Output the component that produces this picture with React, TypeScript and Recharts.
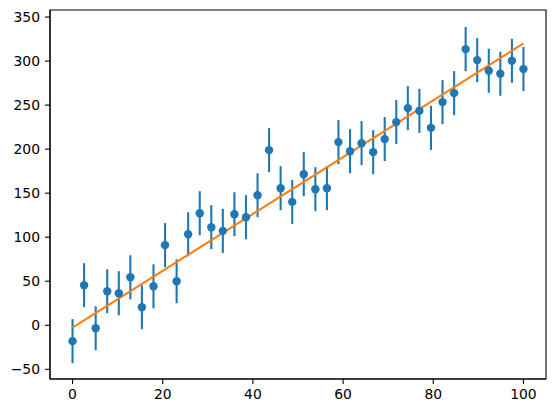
import {
  ComposedChart,
  Scatter,
  Line,
  XAxis,
  YAxis,
  ErrorBar,
  ReferenceArea
} from 'recharts';

// x positions (40 evenly spaced samples between 0 and 100)
const xValues = [
  0, 2.56, 5.13, 7.69, 10.26, 12.82, 15.38, 17.95, 20.51, 23.08,
  25.64, 28.21, 30.77, 33.33, 35.9, 38.46, 41.03, 43.59, 46.15, 48.72,
  51.28, 53.85, 56.41, 58.97, 61.54, 64.1, 66.67, 69.23, 71.79, 74.36,
  76.92, 79.49, 82.05, 84.62, 87.18, 89.74, 92.31, 94.87, 97.44, 100
];

const yValues = [
  -18, 45.5, -3.4, 38.6, 36.4, 54.5, 20.5, 44.3, 91, 50,
  103.4, 127.3, 111.4, 107.2, 126.1, 122.7, 147.7, 198.9, 155.7, 140.1,
  171.6, 154.5, 155.7, 208, 197.7, 206.8, 196.6, 211.4, 230.7, 246.6,
  243.5, 224.2, 253.4, 263.6, 313.6, 301.1, 289, 285.6, 300.3, 290.9
];

const yErr = 25;

// fitted line end points
const fitX = [0, 100];
const fitY = [-2.7, 320];

const xTicks = [0, 20, 40, 60, 80, 100];
const yTicks = [-50, 0, 50, 100, 150, 200, 250, 300, 350];

const points = xValues.map((x, i) => ({ x, y: yValues[i], err: yErr }));
const fitRows = fitX.map((x, i) => ({ x, fit: fitY[i] }));

const X_DOMAIN: [number, number] = [-5, 105];
const Y_DOMAIN: [number, number] = [-61, 358];

const tickStyle = { fill: '#000', fontSize: 13.9, fontFamily: 'DejaVu Sans' };

// matplotlib uses a real minus sign
const fmt = (v: number) => String(v).replace('-', '\u2212');

const Dot = (props: any) => {
  const { cx, cy } = props;
  return <circle cx={cx} cy={cy} r={4.2} fill="#1f77b4" />;
};

export default function App() {
  return (
    <div style={{ position: 'absolute', left: 0, top: 0, background: '#fff' }}>
      <ComposedChart
        width={555}
        height={413}
        margin={{ top: 10, right: 9, left: 0, bottom: 0 }}
      >
        <XAxis
          dataKey="x"
          type="number"
          domain={X_DOMAIN}
          ticks={xTicks}
          allowDataOverflow
          height={34}
          tickSize={5}
          tickMargin={5}
          tick={tickStyle}
          tickFormatter={fmt}
          axisLine={{ stroke: '#000', strokeWidth: 1.1 }}
          tickLine={{ stroke: '#000', strokeWidth: 1.1 }}
        />
        <YAxis
          type="number"
          domain={Y_DOMAIN}
          ticks={yTicks}
          allowDataOverflow
          width={50}
          tickSize={5}
          tickMargin={5}
          tick={tickStyle}
          tickFormatter={fmt}
          axisLine={{ stroke: '#000', strokeWidth: 1.1 }}
          tickLine={{ stroke: '#000', strokeWidth: 1.1 }}
        />
        <ReferenceArea
          x1={X_DOMAIN[0]}
          x2={X_DOMAIN[1]}
          y1={Y_DOMAIN[0]}
          y2={Y_DOMAIN[1]}
          fill="none"
          stroke="#000"
          strokeWidth={1.1}
          fillOpacity={0}
        />
        <Scatter
          data={points}
          dataKey="y"
          shape={<Dot />}
          isAnimationActive={false}
        >
          <ErrorBar
            dataKey="err"
            direction="y"
            width={0}
            stroke="#1f77b4"
            strokeWidth={2.1}
            isAnimationActive={false}
          />
        </Scatter>
        <Line
          data={fitRows}
          dataKey="fit"
          stroke="#ff7f0e"
          strokeWidth={2.1}
          dot={false}
          activeDot={false}
          isAnimationActive={false}
        />
      </ComposedChart>
    </div>
  );
}
